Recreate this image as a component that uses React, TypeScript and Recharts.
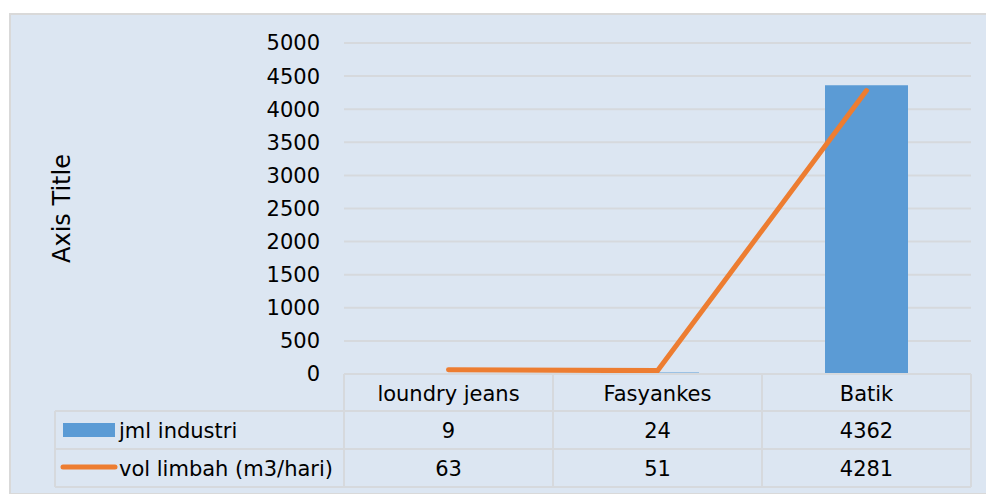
import { Bar, CartesianGrid, ComposedChart, Line, XAxis, YAxis } from "recharts";

const kategori = ["loundry jeans", "Fasyankes", "Batik"];
const jmlIndustri = [9, 24, 4362];
const volLimbah = [63, 51, 4281];
const namaSeri = ["jml industri", "vol limbah (m3/hari)"];
const tickY = [0, 500, 1000, 1500, 2000, 2500, 3000, 3500, 4000, 4500, 5000];

const data = kategori.map((nama, i) => ({
  nama,
  industri: jmlIndustri[i],
  limbah: volLimbah[i],
}));

const biru = "#5b9bd5";
const oranye = "#ed7d31";
const garis = "#d6d9dd";
const huruf = "'DejaVu Sans', Tahoma, sans-serif";
const ukuran = 21;
const kiriLegenda = 55;

// baris tabel data: tinggi tiap baris dan posisi baseline teks
const barisAtas = [0, 37, 75, 113];
const baseline = [27, 64, 102];

function TickTabel(props: any) {
  const { x, y, payload, index } = props;
  const half = payload?.offset ?? 104.5;
  const kiri = x - half;
  const kanan = x + half;
  const nilai = [jmlIndustri[index], volLimbah[index]];
  return (
    <g fontFamily={huruf} fontSize={ukuran} fill="#000">
      {barisAtas.map((dy) => (
        <line key={dy} x1={kiri} x2={kanan} y1={y + dy} y2={y + dy} stroke={garis} strokeWidth={2} />
      ))}
      <line x1={kiri} x2={kiri} y1={y} y2={y + 113} stroke={garis} strokeWidth={2} />
      <line x1={kanan} x2={kanan} y1={y} y2={y + 113} stroke={garis} strokeWidth={2} />
      <text x={x} y={y + baseline[0]} textAnchor="middle">
        {payload.value}
      </text>
      {nilai.map((v, i) => (
        <text key={i} x={x} y={y + baseline[i + 1]} textAnchor="middle">
          {v}
        </text>
      ))}
      {index === 0 && (
        <g>
          {barisAtas.slice(1).map((dy) => (
            <line key={dy} x1={kiriLegenda} x2={kiri} y1={y + dy} y2={y + dy} stroke={garis} strokeWidth={2} />
          ))}
          <line x1={kiriLegenda} x2={kiriLegenda} y1={y + 37} y2={y + 113} stroke={garis} strokeWidth={2} />
          <rect x={kiriLegenda + 8} y={y + 49} width={52} height={14} fill={biru} />
          <line
            x1={kiriLegenda + 8}
            x2={kiriLegenda + 60}
            y1={y + 93}
            y2={y + 93}
            stroke={oranye}
            strokeWidth={5}
            strokeLinecap="round"
          />
          {namaSeri.map((n, i) => (
            <text key={n} x={kiriLegenda + 64} y={y + baseline[i + 1]}>
              {n}
            </text>
          ))}
        </g>
      )}
    </g>
  );
}

function JudulSumbu(props: any) {
  const vb = props.viewBox ?? { x: 0, y: 43, width: 344, height: 331 };
  const cx = vb.x + 62;
  const cy = vb.y + vb.height / 2;
  return (
    <text
      transform={`translate(${cx},${cy}) rotate(-90)`}
      textAnchor="middle"
      dominantBaseline="central"
      fontFamily={huruf}
      fontSize={24}
      fill="#000"
    >
      Axis Title
    </text>
  );
}

export default function App() {
  return (
    <div style={{ position: "absolute", left: 0, top: 0, width: 986, height: 494, background: "#fff" }}>
      <div
        style={{
          position: "absolute",
          left: 9,
          top: 13,
          width: 990,
          height: 478,
          background: "#dce6f2",
          border: "2px solid #d9d9d9",
        }}
      />
      <div style={{ position: "absolute", left: 0, top: 0 }}>
        <ComposedChart
          width={986}
          height={494}
          data={data}
          margin={{ top: 43, right: 15, bottom: 0, left: 0 }}
          barCategoryGap={0}
        >
          <CartesianGrid vertical={false} stroke={garis} strokeWidth={2} />
          <XAxis
            dataKey="nama"
            height={120}
            axisLine={false}
            tickLine={false}
            tickSize={0}
            tickMargin={0}
            interval={0}
            tick={<TickTabel />}
          />
          <YAxis
            width={344}
            domain={[0, 5000]}
            ticks={tickY}
            axisLine={false}
            tickLine={false}
            tickSize={6}
            tickMargin={18}
            tick={{ fontFamily: huruf, fontSize: ukuran, fill: "#000" }}
            label={<JudulSumbu />}
          />
          <Bar dataKey="industri" name={namaSeri[0]} fill={biru} barSize={83} isAnimationActive={false} />
          <Line
            type="linear"
            dataKey="limbah"
            name={namaSeri[1]}
            stroke={oranye}
            strokeWidth={5}
            strokeLinecap="round"
            dot={false}
            activeDot={false}
            isAnimationActive={false}
          />
        </ComposedChart>
      </div>
    </div>
  );
}
